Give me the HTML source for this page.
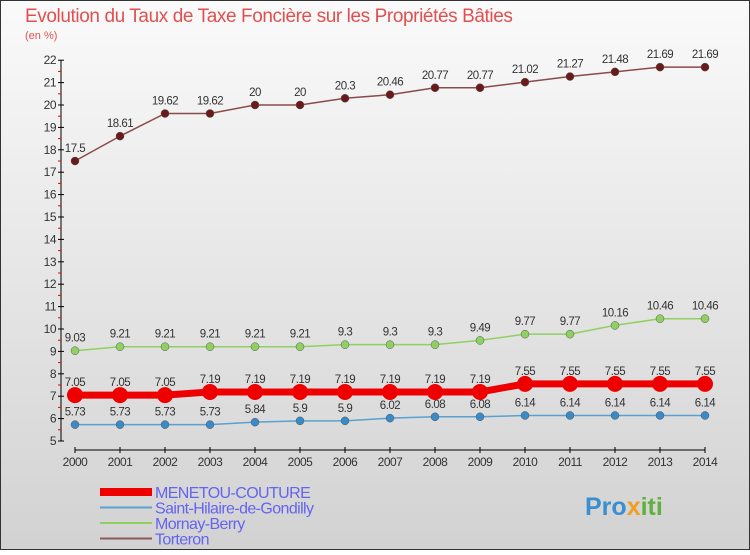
<!DOCTYPE html>
<html><head><meta charset="utf-8"><style>
body{margin:0;width:750px;height:550px;overflow:hidden;font-family:"Liberation Sans",sans-serif}
svg text{font-family:"Liberation Sans",sans-serif}
</style></head><body>
<svg width="750" height="550" viewBox="0 0 750 550">
<defs><linearGradient id="bg" x1="0" y1="0" x2="0" y2="1"><stop offset="0" stop-color="#fafafa"/><stop offset="1" stop-color="#d2d2d2"/></linearGradient></defs>
<rect x="0.5" y="0.5" width="749" height="549" fill="url(#bg)" stroke="#333"/>
<text x="25" y="22" font-size="19" fill="#e05050" letter-spacing="-0.4">Evolution du Taux de Taxe Foncière sur les Propriétés Bâties</text>
<text x="25" y="39" font-size="11" fill="#e05050">(en %)</text>
<g id="axes"></g><g id="series"></g><g id="legend"></g>
<text x="585" y="515" font-size="25" font-weight="bold" fill="#3a8fd0">Pro<tspan fill="#f0a020">x</tspan><tspan fill="#60b040">iti</tspan></text>
</svg>
<script>
const years=["2000","2001","2002","2003","2004","2005","2006","2007","2008","2009","2010","2011","2012","2013","2014"];
const yTicks=[5,6,7,8,9,10,11,12,13,14,15,16,17,18,19,20,21,22];
const menetou=[7.05,7.05,7.05,7.19,7.19,7.19,7.19,7.19,7.19,7.19,7.55,7.55,7.55,7.55,7.55];
const stHilaire=[5.73,5.73,5.73,5.73,5.84,5.9,5.9,6.02,6.08,6.08,6.14,6.14,6.14,6.14,6.14];
const mornay=[9.03,9.21,9.21,9.21,9.21,9.21,9.3,9.3,9.3,9.49,9.77,9.77,10.16,10.46,10.46];
const torteron=[17.5,18.61,19.62,19.62,20,20,20.3,20.46,20.77,20.77,21.02,21.27,21.48,21.69,21.69];
const NS="http://www.w3.org/2000/svg";
function X(i){return 75+i*45;}
function Y(v){return 441-(v-5)*22.4;}
function mk(t,a,p){const e=document.createElementNS(NS,t);for(const k in a)e.setAttribute(k,a[k]);(p||document.getElementById('axes')).appendChild(e);return e;}
let e=mk('line',{x1:61,y1:Y(22),x2:61,y2:Y(5),stroke:'#000'});

e=mk('line',{x1:X(0),y1:450,x2:X(14),y2:450,stroke:'#000'});

yTicks.forEach(v=>{mk('line',{x1:58,y1:Y(v),x2:64,y2:Y(v),stroke:'#000'});
 if(v<22)mk('line',{x1:58,y1:Y(v+0.5),x2:61,y2:Y(v+0.5),stroke:'#e00'});
 const t=mk('text',{x:56,y:Y(v)+4,'font-size':12,'text-anchor':'end',fill:'#333','letter-spacing':'-0.5'});t.textContent=v;
 });
years.forEach((y,i)=>{mk('line',{x1:X(i),y1:447,x2:X(i),y2:453,stroke:'#000'});
 const t=mk('text',{x:X(i),y:466,'font-size':12,'text-anchor':'middle',fill:'#333','letter-spacing':'-0.5'});t.textContent=y;
 });
const sg=document.getElementById('series');
function series(name,vals,color,dot,w,r,lw){
 const g=mk('g',{},sg);
 mk('polyline',{points:vals.map((v,i)=>X(i)+','+Y(v)).join(' '),fill:'none',stroke:color,'stroke-width':w},g);
 vals.forEach((v,i)=>{const c=mk('circle',{cx:X(i),cy:Y(v),r:r,fill:dot,stroke:lw?'#555':'none','stroke-width':0.5},g);
  
  const t=mk('text',{x:X(i),y:Y(v)-9,'font-size':11.5,'text-anchor':'middle',fill:'#333','letter-spacing':'-0.5'},g);t.textContent=String(v);});
}
series('series-torteron',torteron,'#8b4a4a','#6a1a1a',1.5,4,1);
series('series-mornay-berry',mornay,'#90d060','#90d060',1.5,4,1);
series('series-saint-hilaire',stHilaire,'#5aa0d0','#3a8ac8',1.5,4,1);
series('series-menetou-couture',menetou,'#ee0000','#ee0000',7,8,0);
const lg=document.getElementById('legend');
[["MENETOU-COUTURE","#ee0000",8],["Saint-Hilaire-de-Gondilly","#5aa0d0",2],["Mornay-Berry","#90d060",2],["Torteron","#8b5a5a",2]].forEach((d,i)=>{
 const y=492+i*15.5;
 const g=mk('g',{},lg);
 mk('line',{x1:100,y1:y,x2:152,y2:y,stroke:d[1],'stroke-width':d[2]},g);
 const t=mk('text',{x:155,y:y+6,'font-size':16,fill:'#6464f0','letter-spacing':'-0.6'},g);t.textContent=d[0];});
</script>
</body></html>
